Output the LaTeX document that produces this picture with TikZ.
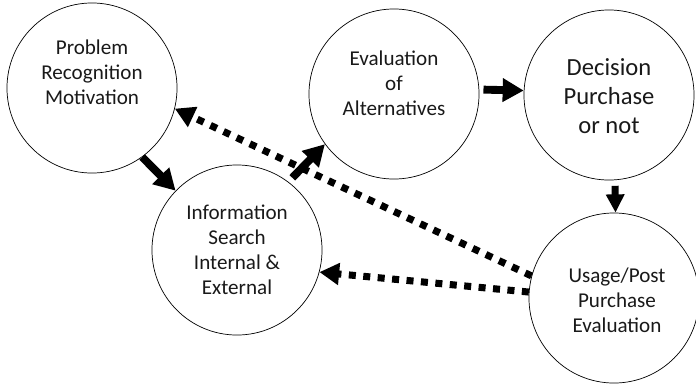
\documentclass[tikz,border=0pt]{standalone}
\usepackage{fontspec}
\setmainfont{Carlito}
\usepackage{tikz}
\usetikzlibrary{arrows.meta}

\begin{document}
\begin{tikzpicture}[x=0.025cm, y=-0.025cm, every node/.style={font=\fontsize{15}{17.8}\selectfont}]
    \tikzset{
      stage/.style={circle, draw=black, line width=0.5pt, minimum size=4.25cm, inner sep=0pt},
      stagetext/.style={align=center, inner sep=0pt, text=black!90},
      flow/.style={line width=5.6pt, -{Triangle[length=15pt, width=16pt]}},
      feedback/.style={line width=5pt, dash pattern=on 5pt off 5.3pt,
                       -{Triangle[length=14pt, width=15pt]}}}
    \useasboundingbox (0,0) rectangle (696,383);
    \node[stage] (prob) at (92,88)  {};
    \node[stage] (info) at (237,250) {};
    \node[stage] (eval) at (394,94) {};
    \node[stage] (dec)  at (609,95) {};
    \node[stage] (us)   at (614,298) {};
    \node[stagetext] (probtxt) at (92,72)   {Problem\\Recognition\\Motivation};
    \node[stagetext] (infotxt) at (237,250) {Information\\Search\\Internal \&\\External};
    \node[stagetext] (evaltxt) at (394,83)  {Evaluation\\of\\Alternatives};
    \node[stagetext, font=\fontsize{17.5}{20.6}\selectfont] (dectxt) at (609,96) {Decision\\Purchase\\or not};
    \node[stagetext] (ustxt) at (617,300) {Usage/Post\\Purchase\\Evaluation};
    % feedback loops
    \draw[feedback] (us.165) -- (prob.-14);
    \draw[feedback] (us.176) -- (info.-15);
    % main flow
    \draw[flow] (prob.-54) -- (info.136);
    \draw[flow, shorten <=4pt] (info.53) -- (eval.216);
    \draw[flow, shorten <=3pt] (eval.3) -- (dec.177);
    \draw[flow, line width=5pt, -{Triangle[length=13pt, width=12.5pt]}, shorten <=4pt] (dec.-86) -- (us.89);
\end{tikzpicture}
\end{document}
